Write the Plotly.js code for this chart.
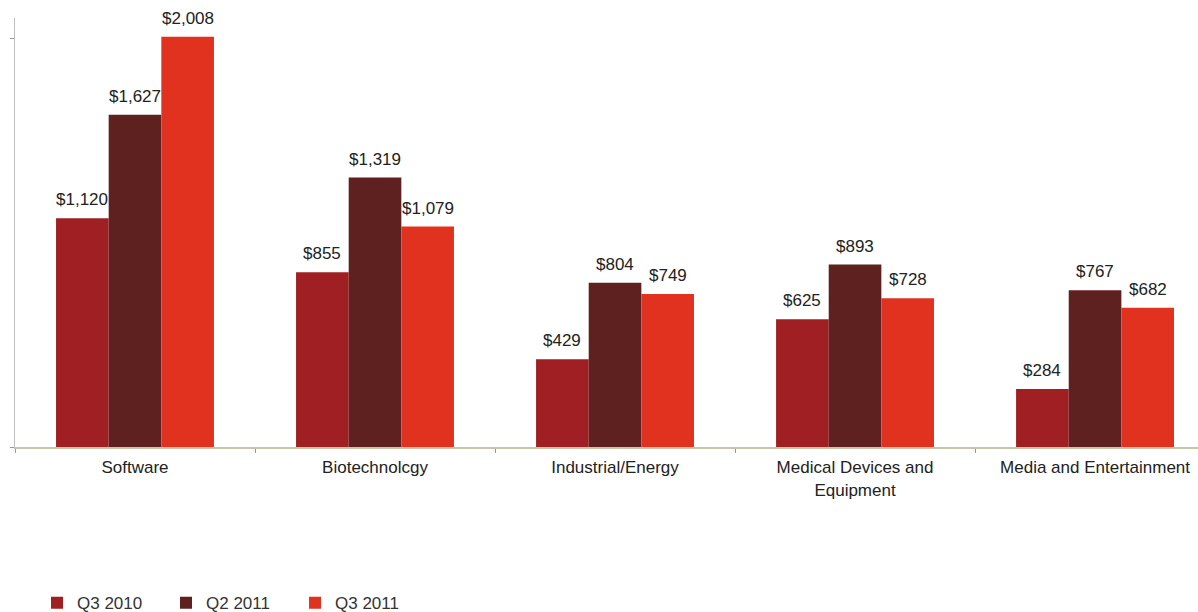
<!DOCTYPE html>
<html>
<head>
<meta charset="utf-8">
<script src="https://cdn.plot.ly/plotly-3.0.1.min.js"></script>
<style>html,body{margin:0;padding:0;background:#fff;}#chart{width:1198px;height:612px;}</style>
</head>
<body>
<div id="chart"></div>
<script>
const categories = ["Software", "Biotechnolcgy", "Industrial/Energy", "Medical Devices and<br>Equipment", "Media and Entertainment"];
const seriesNames = ["Q3 2010", "Q2 2011", "Q3 2011"];
const q3_2010 = [1120, 855, 429, 625, 284];
const q2_2011 = [1627, 1319, 804, 893, 767];
const q3_2011 = [2008, 1079, 749, 728, 682];
const colors = ["#A01F22", "#5F2120", "#E1311F"];

const W = 1198, H = 612;
const margin = {l: 15, r: 0, t: 18, b: 165, autoexpand: false};
const xRange = [-0.5, 4.429];
const bargap = 0.342;

const fmt = v => "$" + v.toLocaleString("en-US");
const allSeries = [q3_2010, q2_2011, q3_2011];
const traces = allSeries.map((vals, i) => ({
  type: "bar",
  name: seriesNames[i],
  x: categories,
  y: vals,
  marker: {color: colors[i], line: {width: 0}},
  hoverinfo: "skip"
}));

// value labels placed at each bar's own data position, shifted to its slot within the group
const pxPerCat = (W - margin.l - margin.r) / (xRange[1] - xRange[0]);
const barPx = pxPerCat * (1 - bargap) / allSeries.length;
const annotations = [];
allSeries.forEach((vals, i) => {
  vals.forEach((v, j) => {
    annotations.push({
      x: categories[j], y: v, xref: "x", yref: "y",
      text: fmt(v), showarrow: false,
      xanchor: "center", yanchor: "bottom",
      xshift: (i - (allSeries.length - 1) / 2) * barPx,
      yshift: 7,
      font: {family: "Liberation Sans, Arial, sans-serif", size: 17, color: "#222"}
    });
  });
});

const layout = {
  width: W, height: H,
  margin: margin,
  paper_bgcolor: "#fff", plot_bgcolor: "#fff",
  barmode: "group",
  bargap: bargap,
  bargroupgap: 0,
  showlegend: true,
  font: {family: "Liberation Sans, Arial, sans-serif", size: 17, color: "#222"},
  annotations: annotations,
  xaxis: {
    type: "category",
    range: xRange,
    showline: true, linecolor: "#C9C3AE", linewidth: 2,
    ticks: "outside", tickson: "boundaries", ticklen: 4, tickcolor: "#999",
    ticklabelstandoff: 4,
    tickfont: {size: 17, color: "#222"},
    showgrid: false, zeroline: false, fixedrange: true
  },
  yaxis: {
    range: [0, 2100],
    showline: true, linecolor: "#BFBFBF", linewidth: 1,
    ticks: "outside", ticklen: 4, tickcolor: "#999",
    tickvals: [0, 2000], showticklabels: false,
    showgrid: false, zeroline: false, fixedrange: true
  },
  legend: {
    orientation: "h",
    x: 0.0186, xanchor: "left",
    y: -0.322, yanchor: "top",
    entrywidth: 84, entrywidthmode: "pixels",
    font: {size: 17, color: "#333"},
    itemclick: false, itemdoubleclick: false
  }
};

Plotly.newPlot("chart", traces, layout, {displayModeBar: false, staticPlot: true});
</script>
</body>
</html>
